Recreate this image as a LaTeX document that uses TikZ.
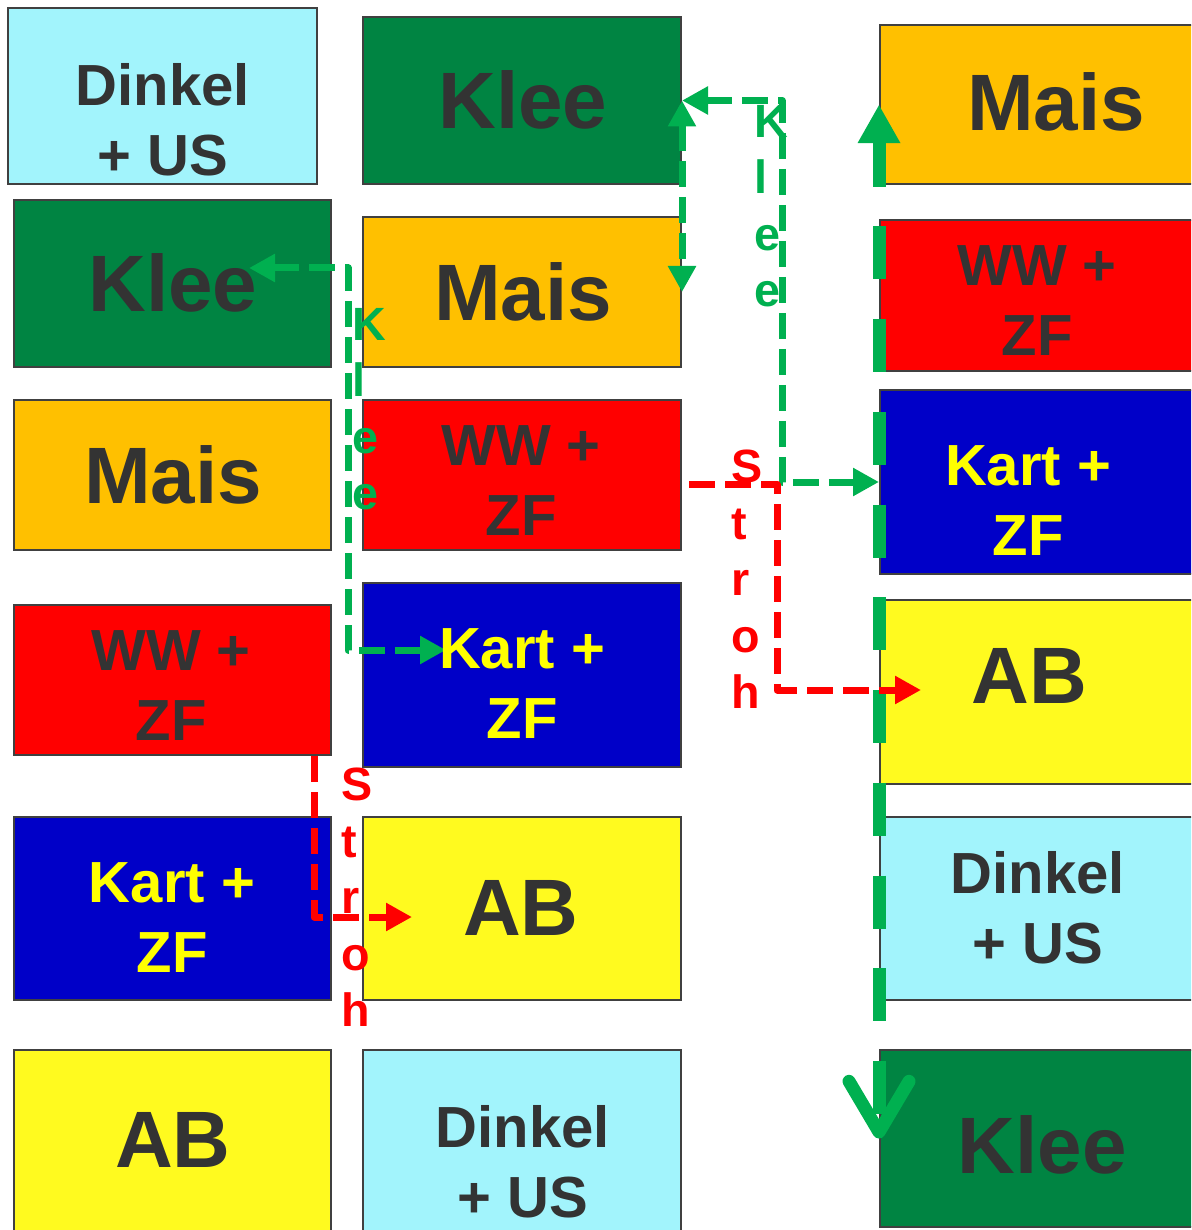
\documentclass[tikz,border=0pt]{standalone}
\usepackage{fontspec}
\setmainfont{Liberation Sans}
\usetikzlibrary{arrows.meta,calc,fit}

\definecolor{cyanbox}{HTML}{A2F4FC}
\definecolor{greenbox}{HTML}{008442}
\definecolor{goldbox}{HTML}{FFC000}
\definecolor{redbox}{HTML}{FF0000}
\definecolor{bluebox}{HTML}{0000C8}
\definecolor{yellowbox}{HTML}{FFFA1F}
\definecolor{boxline}{HTML}{404040}
\definecolor{textdark}{HTML}{333333}
\definecolor{textyellow}{HTML}{FFFF00}
\definecolor{flowgreen}{HTML}{00B050}
\definecolor{flowred}{HTML}{FF0000}

\begin{document}
\begin{tikzpicture}[x=0.75pt,y=-0.75pt,
  box/.style={draw=boxline, line width=1.5pt, inner sep=0pt},
  bigtxt/.style={anchor=north, inner sep=0pt, text=textdark,
    font=\fontsize{60}{72}\selectfont\bfseries},
  midtxt/.style={anchor=north, inner sep=0pt, align=center, text=textdark,
    font=\fontsize{43.5}{52.5}\selectfont\bfseries},
  flowlbl/.style={anchor=north west, inner sep=0pt, align=left,
    font=\fontsize{35}{42.4}\selectfont\bfseries},
  thinflow/.style={line width=5.25pt, dash pattern=on 19.5pt off 7.5pt,
    line join=round},
  >={Triangle[length=19.5pt,width=20pt]},
  cycleflow/.style={draw=flowgreen, line width=9.75pt,
    dash pattern=on 39.75pt off 29.8pt, dash phase=5.25pt,
    arrows={Triangle[length=29pt,width=30pt]-Straight Barb[length=38pt,width=45pt,round]}}
]
\clip (0,0) rectangle (1191,1230);

% ---------- first rotation ----------
\node[box, fill=cyanbox,   fit={(8,8) (317,184)}]     (c1a) {};
\node[box, fill=greenbox,  fit={(14,200) (331,367)}]  (c1b) {};
\node[box, fill=goldbox,   fit={(14,400) (331,550)}]  (c1c) {};
\node[box, fill=redbox,    fit={(14,605) (331,755)}]  (c1d) {};
\node[box, fill=bluebox,   fit={(14,817) (331,1000)}] (c1e) {};
\node[box, fill=yellowbox, fit={(14,1050) (331,1245)}] (c1f) {};

% ---------- second rotation ----------
\node[box, fill=greenbox,  fit={(363,17) (681,184)}]   (c2a) {};
\node[box, fill=goldbox,   fit={(363,217) (681,367)}]  (c2b) {};
\node[box, fill=redbox,    fit={(363,400) (681,550)}]  (c2c) {};
\node[box, fill=bluebox,   fit={(363,583) (681,767)}]  (c2d) {};
\node[box, fill=yellowbox, fit={(363,817) (681,1000)}] (c2e) {};
\node[box, fill=cyanbox,   fit={(363,1050) (681,1245)}] (c2f) {};

% ---------- third rotation ----------
\node[box, fill=goldbox,   fit={(880,25) (1205,184)}]   (c3a) {};
\node[box, fill=redbox,    fit={(880,220) (1205,371)}]  (c3b) {};
\node[box, fill=bluebox,   fit={(880,390) (1205,574)}]  (c3c) {};
\node[box, fill=yellowbox, fit={(880,600) (1205,784)}]  (c3d) {};
\node[box, fill=cyanbox,   fit={(880,817) (1205,1000)}] (c3e) {};
\node[box, fill=greenbox,  fit={(880,1050) (1205,1227)}] (c3f) {};

% ---------- crop names ----------
\node[midtxt] (t1a) at (163,63)   {Dinkel\\+ US};
\node[bigtxt] (t1b) at (173,253)  {Klee};
\node[bigtxt] (t1c) at (173,445)  {Mais};
\node[midtxt] (t1d) at (171,630)  {WW +\\ZF};
\node[midtxt, text=textyellow] (t1e) at (172,862) {Kart +\\ZF};
\node[bigtxt] (t1f) at (173,1112) {AB};

\node[bigtxt] (t2a) at (523,70)   {Klee};
\node[bigtxt] (t2b) at (523,262)  {Mais};
\node[midtxt] (t2c) at (521,425)  {WW +\\ZF};
\node[bigtxt] (t2e) at (521,880)  {AB};
\node[midtxt] (t2f) at (523,1105) {Dinkel\\+ US};

\node[bigtxt] (t3a) at (1056,72)  {Mais};
\node[midtxt] (t3b) at (1037,245) {WW +\\ZF};
\node[midtxt, text=textyellow] (t3c) at (1028,445) {Kart +\\ZF};
\node[bigtxt] (t3d) at (1029,648) {AB};
\node[midtxt] (t3e) at (1038,851) {Dinkel\\+ US};
\node[bigtxt] (t3f) at (1042,1115) {Klee};

% ---------- rotation cycle ----------
\draw[cycleflow] (c3a.west) -- (c3f.west);

% ---------- clover after-effect ----------
\draw[thinflow, draw=flowgreen, <->]
  ($(c1b.east)+(-83,-15.5)$) -- ++(99,0) |- ($(c2d.west)+(84,-25)$);
\draw[thinflow, draw=flowgreen, <->]
  (c2a.east) -- ++(100,0) |- (c3c.west);
\draw[thinflow, draw=flowgreen, <->] (c2a.east) -- (c2b.east);

% ---------- straw transfer ----------
\draw[thinflow, draw=flowred, ->]
  ($(c1d.south east)+(-18,0)$) |- ($(c2e.west)+(50,8.5)$);
\draw[thinflow, draw=flowred, ->]
  ($(c2c.east)+(7,9)$) -- ++(88,0) |- ($(c3d.west)+(42,-2)$);

% ---------- flow labels ----------
\node[flowlbl, text=flowgreen] (lk1) at (352,308) {K\\l\\e\\e};
\node[flowlbl, text=flowgreen] (lk2) at (754,105) {K\\l\\e\\e};
\node[flowlbl, text=flowred]   (ls1) at (341,768) {S\\t\\r\\o\\h};
\node[flowlbl, text=flowred]   (ls2) at (731,450) {S\\t\\r\\o\\h};

% name drawn above the incoming arrow tip
\node[midtxt, text=textyellow] (t2d) at (522,628) {Kart +\\ZF};
\end{tikzpicture}
\end{document}
